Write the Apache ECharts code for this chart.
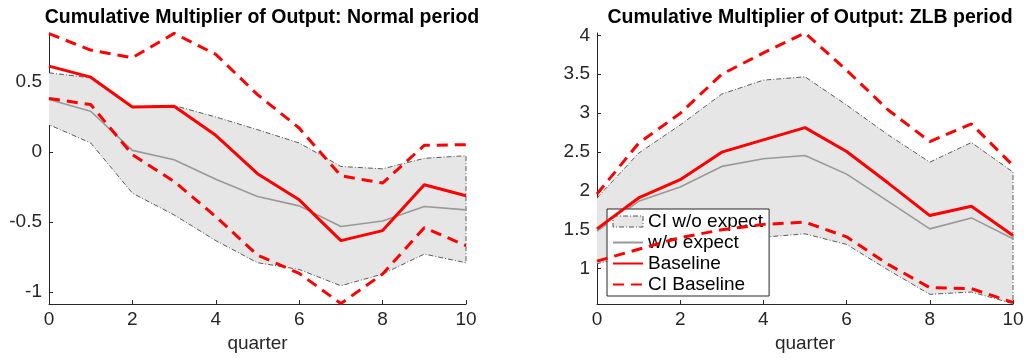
<!DOCTYPE html>
<html>
<head>
<meta charset="utf-8">
<script src="https://cdn.jsdelivr.net/npm/echarts@6/dist/echarts.min.js"></script>
<style>
  html, body { margin: 0; padding: 0; background: #fff; }
  #chart { width: 1027px; height: 358px; }
</style>
</head>
<body>
<div id="chart"></div>
<script>
// quarters on the x axis
const quarters = [0, 1, 2, 3, 4, 5, 6, 7, 8, 9, 10]

// Normal period
const normalBaseline = [0.615, 0.536, 0.323, 0.328, 0.12, -0.155, -0.342, -0.634, -0.562, -0.234, -0.313]
const normalNoExp = [0.376, 0.292, 0.012, -0.055, -0.194, -0.318, -0.385, -0.533, -0.493, -0.39, -0.414]
const normalCiNoExpHi = [0.567, 0.531, 0.323, 0.333, 0.251, 0.16, 0.065, -0.103, -0.12, -0.045, -0.026]
const normalCiNoExpLo = [0.196, 0.065, -0.294, -0.45, -0.634, -0.792, -0.84, -0.957, -0.873, -0.73, -0.792]
const normalCiBaseHi = [0.847, 0.73, 0.675, 0.849, 0.699, 0.411, 0.172, -0.17, -0.222, 0.048, 0.053]
const normalCiBaseLo = [0.383, 0.34, -0.019, -0.21, -0.462, -0.737, -0.868, -1.084, -0.873, -0.541, -0.67]
const normalYTicks = [-1, -0.5, 0, 0.5]

// ZLB period
const zlbBaseline = [1.512, 1.909, 2.144, 2.498, 2.656, 2.814, 2.507, 2.101, 1.683, 1.802, 1.427]
const zlbNoExp = [1.482, 1.866, 2.05, 2.315, 2.413, 2.455, 2.216, 1.866, 1.512, 1.653, 1.384]
const zlbCiNoExpHi = [1.909, 2.485, 2.848, 3.245, 3.424, 3.467, 3.104, 2.72, 2.37, 2.622, 2.242]
const zlbCiNoExpLo = [1.064, 1.2, 1.3, 1.37, 1.405, 1.448, 1.312, 0.983, 0.671, 0.7, 0.552]
const zlbCiBaseHi = [1.96, 2.613, 2.997, 3.5, 3.774, 4.03, 3.552, 3.04, 2.635, 2.861, 2.327]
const zlbCiBaseLo = [1.098, 1.25, 1.4, 1.5, 1.57, 1.598, 1.41, 1.055, 0.757, 0.744, 0.565]
const zlbYTicks = [1, 1.5, 2, 2.5, 3, 3.5, 4]

const FONT = 'Liberation Sans, Arial, Helvetica, sans-serif'
const AXIS = '#262626'
const RED = '#ff0000'
const DASHDOT = [5, 2, 1, 2]
const DASH = [11, 7]

const pairs = (ys) => quarters.map((q, i) => [q, ys[i]])

// series of one panel
const panelSeries = (g, hi, lo, noExp, base, ciHi, ciLo) => {
  const common = { xAxisIndex: g, yAxisIndex: g, symbol: 'none', silent: true }
  // outline of the band: upper edge, then lower edge backwards
  const outline = pairs(hi).concat(pairs(lo).reverse())
  return [
    {
      type: 'custom', xAxisIndex: g, yAxisIndex: g, silent: true, z: 1,
      data: [[0, lo[0]]],
      renderItem: (params, api) => {
        const top = quarters.map((q, i) => api.coord([q, hi[i]]))
        const bottom = quarters.map((q, i) => api.coord([q, lo[i]])).reverse()
        return { type: 'polygon', shape: { points: top.concat(bottom) }, style: { fill: '#e6e6e6' } }
      }
    },
    {
      ...common, type: 'line', name: 'edge' + g, data: outline,
      lineStyle: { color: '#333', width: 0.8, type: DASHDOT }, z: 2
    },
    {
      ...common, type: 'line', name: 'w/o expect', data: pairs(noExp),
      lineStyle: { color: '#999', width: 1.6 }, itemStyle: { color: '#999' }, z: 3
    },
    {
      ...common, type: 'line', name: 'CI Baseline', data: pairs(ciHi),
      lineStyle: { color: RED, width: 3, type: DASH }, itemStyle: { color: RED }, z: 4
    },
    {
      ...common, type: 'line', name: 'CI Baseline', data: pairs(ciLo),
      lineStyle: { color: RED, width: 3, type: DASH }, itemStyle: { color: RED }, z: 4
    },
    {
      ...common, type: 'line', name: 'Baseline', data: pairs(base),
      lineStyle: { color: RED, width: 3 }, itemStyle: { color: RED }, z: 5
    }
  ]
}

const xAxisFor = (g) => ({
  type: 'value', gridIndex: g, min: 0, max: 10, interval: 2,
  name: 'quarter', nameLocation: 'middle', nameGap: 28,
  nameTextStyle: { fontFamily: FONT, fontSize: 19, color: AXIS },
  axisLine: { show: true, onZero: false, lineStyle: { color: AXIS, width: 1 } },
  axisTick: { show: true, inside: true, length: 4, lineStyle: { color: AXIS } },
  axisLabel: { fontFamily: FONT, fontSize: 19, color: AXIS, margin: 6 },
  splitLine: { show: false }
})

const yAxisFor = (g, min, max, ticks) => ({
  type: 'value', gridIndex: g, min: min, max: max,
  axisLine: { show: true, onZero: false, lineStyle: { color: AXIS, width: 1 } },
  axisTick: { show: true, inside: true, length: 4, customValues: ticks, lineStyle: { color: AXIS } },
  axisLabel: { fontFamily: FONT, fontSize: 19, color: AXIS, margin: 7, customValues: ticks },
  splitLine: { show: false }
})

const noSymbol = { opacity: 0 }

const option = {
  animation: false,
  backgroundColor: '#fff',
  title: [
    {
      text: 'Cumulative Multiplier of Output: Normal period',
      left: 257, top: 3, textAlign: 'center',
      textStyle: { fontFamily: FONT, fontSize: 19.5, fontWeight: 'bold', color: '#000' }
    },
    {
      text: 'Cumulative Multiplier of Output: ZLB period',
      left: 805, top: 3, textAlign: 'center',
      textStyle: { fontFamily: FONT, fontSize: 19.5, fontWeight: 'bold', color: '#000' }
    }
  ],
  grid: [
    { left: 49, right: 561, top: 33, bottom: 53 },
    { left: 597, right: 14, top: 33, bottom: 53 }
  ],
  xAxis: [xAxisFor(0), xAxisFor(1)],
  yAxis: [
    yAxisFor(0, -1.088, 0.852, normalYTicks),
    yAxisFor(1, 0.545, 4.03, zlbYTicks)
  ],
  legend: {
    orient: 'vertical', left: 607, top: 209,
    padding: [3, 6, 2, 5], itemGap: 2, itemWidth: 30, itemHeight: 11, itemTextGap: 4,
    backgroundColor: '#fff', borderColor: AXIS, borderWidth: 1,
    textStyle: { fontFamily: FONT, fontSize: 19, color: '#000', lineHeight: 19 },
    selectedMode: false,
    data: [
      {
        name: 'CI w/o expect', icon: 'rect',
        itemStyle: { color: '#e6e6e6', borderColor: '#555', borderWidth: 1, borderType: DASHDOT }
      },
      { name: 'w/o expect', itemStyle: noSymbol },
      { name: 'Baseline', itemStyle: noSymbol },
      { name: 'CI Baseline', itemStyle: noSymbol }
    ]
  },
  series: [
    // only gives the legend its patch icon
    {
      type: 'bar', name: 'CI w/o expect', xAxisIndex: 1, yAxisIndex: 1, data: [],
      itemStyle: { color: '#e6e6e6', borderColor: '#555', borderWidth: 1, borderType: DASHDOT }
    },
    ...panelSeries(0, normalCiNoExpHi, normalCiNoExpLo, normalNoExp, normalBaseline, normalCiBaseHi, normalCiBaseLo),
    ...panelSeries(1, zlbCiNoExpHi, zlbCiNoExpLo, zlbNoExp, zlbBaseline, zlbCiBaseHi, zlbCiBaseLo)
  ]
}

const chart = echarts.init(document.getElementById('chart'), null, { renderer: 'canvas' })
chart.setOption(option)
</script>
</body>
</html>
